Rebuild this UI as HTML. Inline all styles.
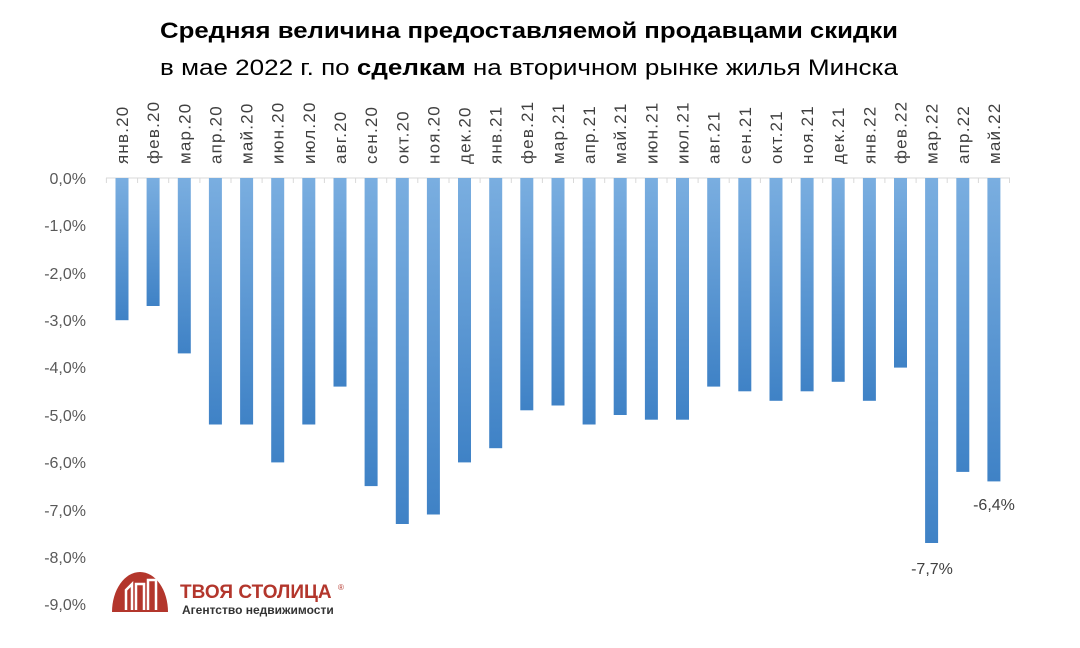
<!DOCTYPE html>
<html><head><meta charset="utf-8"><style>
body{margin:0;background:#fff;}
svg{display:block;font-family:"Liberation Sans","DejaVu Sans",sans-serif;}
</style></head><body>
<svg width="1080" height="648" viewBox="0 0 1080 648" xmlns="http://www.w3.org/2000/svg">
<defs>
<linearGradient id="g" x1="0" y1="0" x2="0" y2="1">
<stop offset="0" stop-color="#7aaee0"/><stop offset="1" stop-color="#3f82c6"/>
</linearGradient>
</defs>
<text x="160" y="38" textLength="738" lengthAdjust="spacingAndGlyphs" font-size="22" font-weight="bold" fill="#000">Средняя величина предоставляемой продавцами скидки</text>
<text x="160" y="75" textLength="738" lengthAdjust="spacingAndGlyphs" font-size="22" fill="#000">в мае 2022 г. по <tspan font-weight="bold">сделкам</tspan> на вторичном рынке жилья Минска</text>
<g font-size="16" fill="#595959" text-anchor="end">
<text x="86" y="184">0,0%</text><text x="86" y="231">-1,0%</text><text x="86" y="279">-2,0%</text>
<text x="86" y="326">-3,0%</text><text x="86" y="373">-4,0%</text><text x="86" y="421">-5,0%</text>
<text x="86" y="468">-6,0%</text><text x="86" y="516">-7,0%</text><text x="86" y="563">-8,0%</text>
<text x="86" y="610">-9,0%</text>
</g>
<line x1="106" y1="178" x2="1010" y2="178" stroke="#d9d9d9" stroke-width="1"/>
<path stroke="#d9d9d9" d="M106.4 178v5M137.6 178v5M168.7 178v5M199.9 178v5M231 178v5M262.1 178v5M293.3 178v5M324.4 178v5M355.6 178v5M386.7 178v5M417.8 178v5M449 178v5M480.1 178v5M511.3 178v5M542.4 178v5M573.5 178v5M604.7 178v5M635.8 178v5M667 178v5M698.1 178v5M729.2 178v5M760.4 178v5M791.5 178v5M822.7 178v5M853.8 178v5M884.9 178v5M916.1 178v5M947.2 178v5M978.4 178v5M1009.5 178v5"/>
<g fill="url(#g)">
<rect x="115.5" y="178" width="13" height="142.2"/>
<rect x="146.6" y="178" width="13" height="128.0"/>
<rect x="177.8" y="178" width="13" height="175.4"/>
<rect x="208.9" y="178" width="13" height="246.5"/>
<rect x="240.1" y="178" width="13" height="246.5"/>
<rect x="271.2" y="178" width="13" height="284.4"/>
<rect x="302.3" y="178" width="13" height="246.5"/>
<rect x="333.5" y="178" width="13" height="208.6"/>
<rect x="364.6" y="178" width="13" height="308.1"/>
<rect x="395.8" y="178" width="13" height="346.0"/>
<rect x="426.9" y="178" width="13" height="336.5"/>
<rect x="458.0" y="178" width="13" height="284.4"/>
<rect x="489.2" y="178" width="13" height="270.2"/>
<rect x="520.3" y="178" width="13" height="232.3"/>
<rect x="551.5" y="178" width="13" height="227.5"/>
<rect x="582.6" y="178" width="13" height="246.5"/>
<rect x="613.7" y="178" width="13" height="237.0"/>
<rect x="644.9" y="178" width="13" height="241.7"/>
<rect x="676.0" y="178" width="13" height="241.7"/>
<rect x="707.2" y="178" width="13" height="208.6"/>
<rect x="738.3" y="178" width="13" height="213.3"/>
<rect x="769.5" y="178" width="13" height="222.8"/>
<rect x="800.6" y="178" width="13" height="213.3"/>
<rect x="831.7" y="178" width="13" height="203.8"/>
<rect x="862.9" y="178" width="13" height="222.8"/>
<rect x="894.0" y="178" width="13" height="189.6"/>
<rect x="925.1" y="178" width="13" height="365.0"/>
<rect x="956.3" y="178" width="13" height="293.9"/>
<rect x="987.4" y="178" width="13" height="303.4"/>
</g>
<g font-size="17" letter-spacing="1.2" fill="#404040">
<text transform="translate(128,164) rotate(-90)">янв.20</text>
<text transform="translate(159.1,164) rotate(-90)">фев.20</text>
<text transform="translate(190.3,164) rotate(-90)">мар.20</text>
<text transform="translate(221.4,164) rotate(-90)">апр.20</text>
<text transform="translate(252.6,164) rotate(-90)">май.20</text>
<text transform="translate(283.7,164) rotate(-90)">июн.20</text>
<text transform="translate(314.8,164) rotate(-90)">июл.20</text>
<text transform="translate(346.0,164) rotate(-90)">авг.20</text>
<text transform="translate(377.1,164) rotate(-90)">сен.20</text>
<text transform="translate(408.3,164) rotate(-90)">окт.20</text>
<text transform="translate(439.4,164) rotate(-90)">ноя.20</text>
<text transform="translate(470.5,164) rotate(-90)">дек.20</text>
<text transform="translate(501.7,164) rotate(-90)">янв.21</text>
<text transform="translate(532.8,164) rotate(-90)">фев.21</text>
<text transform="translate(564.0,164) rotate(-90)">мар.21</text>
<text transform="translate(595.1,164) rotate(-90)">апр.21</text>
<text transform="translate(626.2,164) rotate(-90)">май.21</text>
<text transform="translate(657.4,164) rotate(-90)">июн.21</text>
<text transform="translate(688.5,164) rotate(-90)">июл.21</text>
<text transform="translate(719.7,164) rotate(-90)">авг.21</text>
<text transform="translate(750.8,164) rotate(-90)">сен.21</text>
<text transform="translate(782.0,164) rotate(-90)">окт.21</text>
<text transform="translate(813.1,164) rotate(-90)">ноя.21</text>
<text transform="translate(844.2,164) rotate(-90)">дек.21</text>
<text transform="translate(875.4,164) rotate(-90)">янв.22</text>
<text transform="translate(906.5,164) rotate(-90)">фев.22</text>
<text transform="translate(937.6,164) rotate(-90)">мар.22</text>
<text transform="translate(968.8,164) rotate(-90)">апр.22</text>
<text transform="translate(999.9,164) rotate(-90)">май.22</text>
</g>
<text x="994" y="510" text-anchor="middle" font-size="16" fill="#404040">-6,4%</text>
<text x="932" y="574" text-anchor="middle" font-size="16" fill="#404040">-7,7%</text>
<g>
<path d="M112 612 A28 40 0 0 1 168 612 Z" fill="#b3362c"/>
<path d="M126 610 V590 l6 -6 v26 M136 610 V584 h8 v26 M148 610 V580 h8 v30" stroke="#fff" stroke-width="2.5" fill="none"/>
<text x="180" y="598" font-size="19" font-weight="bold" fill="#b3362c">ТВОЯ СТОЛИЦА</text>
<text x="338" y="590" font-size="8" fill="#b3362c">®</text>
<text x="182" y="614" font-size="12" font-weight="bold" fill="#333">Агентство недвижимости</text>
</g>
</svg>
</body></html>
